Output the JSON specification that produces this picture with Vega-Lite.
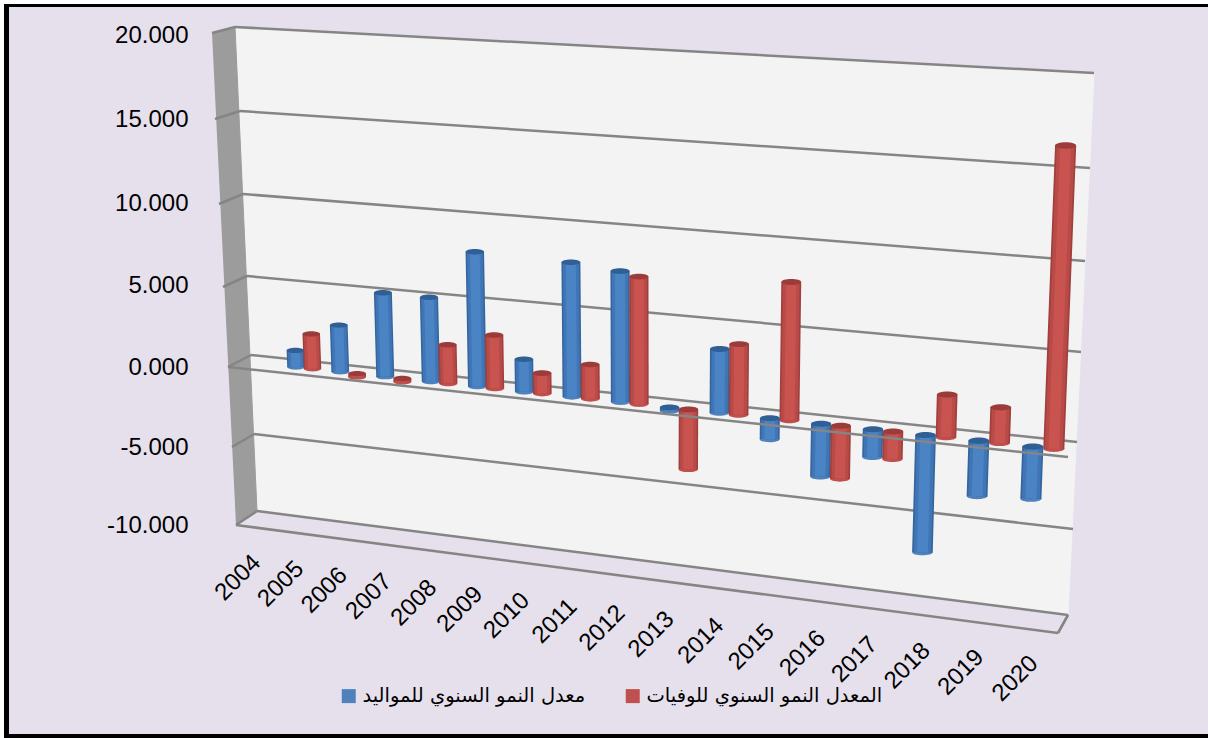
{
"$schema":"https://vega.github.io/schema/vega-lite/v6.json",
"width":1208,"height":738,"padding":0,"autosize":{"type":"none"},
"background":"#ffffff",
"view":{"stroke":null,"fill":null},
"config":{"axis":{"labelFont":"Liberation Sans"},"legend":{"labelFont":"DejaVu Sans"}},
"datasets":{
"rates":[
{"year":2005,"series":"معدل النمو  السنوي للمواليد","value":1.0},{"year":2005,"series":"المعدل النمو  السنوي للوفيات","value":2.1},
{"year":2006,"series":"معدل النمو  السنوي للمواليد","value":2.8},{"year":2006,"series":"المعدل النمو  السنوي للوفيات","value":-0.2},
{"year":2007,"series":"معدل النمو  السنوي للمواليد","value":5.0},{"year":2007,"series":"المعدل النمو  السنوي للوفيات","value":-0.2},
{"year":2008,"series":"معدل النمو  السنوي للمواليد","value":5.0},{"year":2008,"series":"المعدل النمو  السنوي للوفيات","value":2.3},
{"year":2009,"series":"معدل النمو  السنوي للمواليد","value":7.95},{"year":2009,"series":"المعدل النمو  السنوي للوفيات","value":3.15},
{"year":2010,"series":"معدل النمو  السنوي للمواليد","value":1.9},{"year":2010,"series":"المعدل النمو  السنوي للوفيات","value":1.2},
{"year":2011,"series":"معدل النمو  السنوي للمواليد","value":7.85},{"year":2011,"series":"المعدل النمو  السنوي للوفيات","value":2.0},
{"year":2012,"series":"معدل النمو  السنوي للمواليد","value":7.6},{"year":2012,"series":"المعدل النمو  السنوي للوفيات","value":7.4},
{"year":2013,"series":"معدل النمو  السنوي للمواليد","value":-0.2},{"year":2013,"series":"المعدل النمو  السنوي للوفيات","value":-3.45},
{"year":2014,"series":"معدل النمو  السنوي للمواليد","value":3.66},{"year":2014,"series":"المعدل النمو  السنوي للوفيات","value":4.06},
{"year":2015,"series":"معدل النمو  السنوي للمواليد","value":-1.2},{"year":2015,"series":"المعدل النمو  السنوي للوفيات","value":7.9},
{"year":2016,"series":"معدل النمو  السنوي للمواليد","value":-3.0},{"year":2016,"series":"المعدل النمو  السنوي للوفيات","value":-3.0},
{"year":2017,"series":"معدل النمو  السنوي للمواليد","value":-1.56},{"year":2017,"series":"المعدل النمو  السنوي للوفيات","value":-1.55},
{"year":2018,"series":"معدل النمو  السنوي للمواليد","value":-6.6},{"year":2018,"series":"المعدل النمو  السنوي للوفيات","value":2.4},
{"year":2019,"series":"معدل النمو  السنوي للمواليد","value":-3.1},{"year":2019,"series":"المعدل النمو  السنوي للوفيات","value":2.0},
{"year":2020,"series":"معدل النمو  السنوي للمواليد","value":-2.9},{"year":2020,"series":"المعدل النمو  السنوي للوفيات","value":16.9}
],
"years":[{"year":2004},{"year":2005},{"year":2006},{"year":2007},{"year":2008},{"year":2009},{"year":2010},{"year":2011},{"year":2012},{"year":2013},{"year":2014},{"year":2015},{"year":2016},{"year":2017},{"year":2018},{"year":2019},{"year":2020}],
"levels":[{"level":20},{"level":15},{"level":10},{"level":5},{"level":0},{"level":-5},{"level":-10}],
"corners":[{"corner":0},{"corner":1},{"corner":2},{"corner":3}],
"edges":[{"edge":0},{"edge":1},{"edge":2}]
},
"resolve":{"scale":{"y":"independent"}},
"layer":[
{
 "data":{"name":"levels"},
 "mark":{"type":"point","opacity":0},
 "encoding":{
  "x":{"datum":0,"type":"quantitative","scale":{"domain":[0,1208],"range":[0,1208]},"axis":null},
  "y":{"field":"level","type":"quantitative",
   "scale":{"domain":[-10,-5,0,5,10,15,20],"range":[525,447,367,285,203,119,35]},
   "axis":{"values":[-10,-5,0,5,10,15,20],"format":".3f","labelExpr":"replace(datum.label,'−','-')","title":null,"domain":false,"ticks":false,"grid":false,"labelAlign":"right","labelPadding":-188,"labelFontSize":24,"labelColor":"#000000","labelBound":false,"labelOverlap":false,"labelFlush":false,"zindex":1}}
 }
},
{
 "data":{"name":"corners"},
 "transform":[
  {"calculate":"[4,1208,1208,4][datum.corner]","as":"px"},
  {"calculate":"[4,4,738,738][datum.corner]","as":"py"}
 ],
 "mark":{"type":"line","fill":"#000000","stroke":"#000000","strokeWidth":0},
 "encoding":{
  "x":{"field":"px","type":"quantitative","scale":{"domain":[0,1208],"range":[0,1208]},"axis":null},
  "y":{"field":"py","type":"quantitative","scale":{"domain":[0,738],"range":[0,738]},"axis":null},
  "order":{"field":"corner"}
 }
},
{
 "data":{"name":"corners"},
 "transform":[
  {"calculate":"[9,1208,1208,9][datum.corner]","as":"px"},
  {"calculate":"[7,7,734,734][datum.corner]","as":"py"}
 ],
 "mark":{"type":"line","fill":"#e6e0ec","stroke":"#e6e0ec","strokeWidth":0},
 "encoding":{
  "x":{"field":"px","type":"quantitative","scale":{"domain":[0,1208],"range":[0,1208]},"axis":null},
  "y":{"field":"py","type":"quantitative","scale":{"domain":[0,738],"range":[0,738]},"axis":null},
  "order":{"field":"corner"}
 }
},
{
 "data":{"name":"corners"},
 "transform":[
  {"calculate":"[235,1094,1068,257][datum.corner]","as":"px"},
  {"calculate":"[27,73,615,511][datum.corner]","as":"py"}
 ],
 "mark":{"type":"line","fill":"#f3f3f3","stroke":"#f3f3f3","strokeWidth":1},
 "encoding":{
  "x":{"field":"px","type":"quantitative","scale":{"domain":[0,1208],"range":[0,1208]},"axis":null},
  "y":{"field":"py","type":"quantitative","scale":{"domain":[0,738],"range":[0,738]},"axis":null},
  "order":{"field":"corner"}
 }
},
{
 "data":{"name":"corners"},
 "transform":[
  {"calculate":"[212,235,257,236][datum.corner]","as":"px"},
  {"calculate":"[33,27,511,525][datum.corner]","as":"py"}
 ],
 "mark":{"type":"line","fill":"#9c9c9c","stroke":"#9c9c9c","strokeWidth":1},
 "encoding":{
  "x":{"field":"px","type":"quantitative","scale":{"domain":[0,1208],"range":[0,1208]},"axis":null},
  "y":{"field":"py","type":"quantitative","scale":{"domain":[0,738],"range":[0,738]},"axis":null},
  "order":{"field":"corner"}
 }
},
{
 "data":{"name":"levels"},
 "transform":[
  {"calculate":"(20-datum.level)/5","as":"idx"},
  {"calculate":"[235,240,243,247,251,254,257][datum.idx]","as":"bx"},
  {"calculate":"[27,111,194,276,355,434,511][datum.idx]","as":"by"},
  {"calculate":"[1094,1090,1085,1081,1077,1073,1068][datum.idx]","as":"rx"},
  {"calculate":"[73,168,261,352,442,529,615][datum.idx]","as":"ry"},
  {"calculate":"[212,215,219,223,228,232,236][datum.idx]","as":"fx"},
  {"calculate":"[33,119,204,287,367,447,525][datum.idx]","as":"fy"}
 ],
 "layer":[
  {"mark":{"type":"rule","stroke":"#858585","strokeWidth":2.5},
   "encoding":{
    "x":{"field":"bx","type":"quantitative","scale":{"domain":[0,1208],"range":[0,1208]},"axis":null},
    "y":{"field":"by","type":"quantitative","scale":{"domain":[0,738],"range":[0,738]},"axis":null},
    "x2":{"field":"rx"},"y2":{"field":"ry"}}},
  {"mark":{"type":"rule","stroke":"#858585","strokeWidth":2.5},
   "encoding":{
    "x":{"field":"fx","type":"quantitative","scale":{"domain":[0,1208],"range":[0,1208]},"axis":null},
    "y":{"field":"fy","type":"quantitative","scale":{"domain":[0,738],"range":[0,738]},"axis":null},
    "x2":{"field":"bx"},"y2":{"field":"by"}}}
 ]
},
{
 "data":{"name":"edges"},
 "transform":[
  {"calculate":"[236,1058][min(datum.edge,1)]","as":"ax"},
  {"calculate":"[525,633][min(datum.edge,1)]","as":"ay"},
  {"calculate":"[1058,1068,1068][datum.edge]","as":"cx"},
  {"calculate":"[633,615,615][datum.edge]","as":"cy"}
 ],
 "mark":{"type":"rule","stroke":"#858585","strokeWidth":2.5},
 "encoding":{
  "x":{"field":"ax","type":"quantitative","scale":{"domain":[0,1208],"range":[0,1208]},"axis":null},
  "y":{"field":"ay","type":"quantitative","scale":{"domain":[0,738],"range":[0,738]},"axis":null},
  "x2":{"field":"cx"},"y2":{"field":"cy"}
 }
},
{
 "data":{"name":"rates"},
 "transform":[
  {"calculate":"datum.year-2005","as":"i"},
  {"calculate":"indexof(datum.series,'للوفيات')>=0","as":"isRed"},
  {"calculate":"296+43.93*datum.i+0.346*datum.i*datum.i+(datum.isRed?16.5+0.3*datum.i:0)","as":"x0"},
  {"calculate":"367+0.108*(datum.x0-296)","as":"y0"},
  {"calculate":"16.6+0.09*datum.i","as":"k"},
  {"calculate":"-0.73+1.5*(datum.x0-236)/858","as":"s"},
  {"calculate":"17.5+0.24*datum.i","as":"w"},
  {"calculate":"datum.x0+max(datum.value,0)*datum.s","as":"xt"},
  {"calculate":"datum.y0-max(datum.value,0)*datum.k","as":"yt"},
  {"calculate":"datum.x0+min(datum.value,0)*datum.s","as":"xb"},
  {"calculate":"datum.y0-min(datum.value,0)*datum.k","as":"yb"},
  {"calculate":"datum.w*0.84","as":"w2"},
  {"calculate":"datum.w*0.52","as":"w3"},
  {"calculate":"datum.w*datum.w","as":"area"}
 ],
 "resolve":{"scale":{"stroke":"independent","fill":"independent"}},
 "layer":[
  {"mark":{"type":"point","shape":"M-1,0A1,0.3,0,1,1,1,0A1,0.3,0,1,1,-1,0Z","filled":true,"opacity":1},
   "encoding":{
    "x":{"field":"xb","type":"quantitative","scale":{"domain":[0,1208],"range":[0,1208]},"axis":null},
    "y":{"field":"yb","type":"quantitative","scale":{"domain":[0,738],"range":[0,738]},"axis":null},
    "size":{"field":"area","type":"quantitative","scale":null},
    "fill":{"field":"series","type":"nominal","sort":null,
     "scale":{"domain":["معدل النمو  السنوي للمواليد","المعدل النمو  السنوي للوفيات"],"range":["#4f81bd","#c0504d"]},
     "legend":{"title":null,"orient":"none","legendX":339,"legendY":686,"direction":"horizontal","columns":2,"symbolType":"square","symbolSize":196,"symbolStrokeWidth":0,"labelFontSize":19.5,"labelColor":"#000000","labelLimit":400,"labelOffset":4,"columnPadding":31,"values":["معدل النمو  السنوي للمواليد","المعدل النمو  السنوي للوفيات"]}}
   }},
  {"mark":{"type":"rule"},
   "encoding":{
    "x":{"field":"xb","type":"quantitative","scale":{"domain":[0,1208],"range":[0,1208]},"axis":null},
    "y":{"field":"yb","type":"quantitative","scale":{"domain":[0,738],"range":[0,738]},"axis":null},
    "x2":{"field":"xt"},"y2":{"field":"yt"},
    "size":{"field":"w","type":"quantitative","scale":null},
    "stroke":{"field":"series","type":"nominal","legend":null,
     "scale":{"domain":["معدل النمو  السنوي للمواليد","المعدل النمو  السنوي للوفيات"],"range":["#33659e","#a03f3c"]}}
   }},
  {"mark":{"type":"rule"},
   "encoding":{
    "x":{"field":"xb","type":"quantitative","scale":{"domain":[0,1208],"range":[0,1208]},"axis":null},
    "y":{"field":"yb","type":"quantitative","scale":{"domain":[0,738],"range":[0,738]},"axis":null},
    "x2":{"field":"xt"},"y2":{"field":"yt"},
    "size":{"field":"w2","type":"quantitative","scale":null},
    "stroke":{"field":"series","type":"nominal","legend":null,
     "scale":{"domain":["معدل النمو  السنوي للمواليد","المعدل النمو  السنوي للوفيات"],"range":["#4076b6","#b84a47"]}}
   }},
  {"mark":{"type":"rule"},
   "encoding":{
    "x":{"field":"xb","type":"quantitative","scale":{"domain":[0,1208],"range":[0,1208]},"axis":null},
    "y":{"field":"yb","type":"quantitative","scale":{"domain":[0,738],"range":[0,738]},"axis":null},
    "x2":{"field":"xt"},"y2":{"field":"yt"},
    "size":{"field":"w3","type":"quantitative","scale":null},
    "stroke":{"field":"series","type":"nominal","legend":null,
     "scale":{"domain":["معدل النمو  السنوي للمواليد","المعدل النمو  السنوي للوفيات"],"range":["#4b84c5","#c8534f"]}}
   }},
  {"mark":{"type":"point","shape":"M-1,0A1,0.3,0,1,1,1,0A1,0.3,0,1,1,-1,0Z","filled":true,"opacity":1},
   "encoding":{
    "x":{"field":"xt","type":"quantitative","scale":{"domain":[0,1208],"range":[0,1208]},"axis":null},
    "y":{"field":"yt","type":"quantitative","scale":{"domain":[0,738],"range":[0,738]},"axis":null},
    "size":{"field":"area","type":"quantitative","scale":null},
    "fill":{"field":"series","type":"nominal","legend":null,
     "scale":{"domain":["معدل النمو  السنوي للمواليد","المعدل النمو  السنوي للوفيات"],"range":["#305f95","#9c3c3a"]}}
   }}
 ]
},
{
 "data":{"name":"edges"},
 "transform":[{"filter":"datum.edge==2"},
  {"calculate":"228","as":"ax"},{"calculate":"367","as":"ay"},{"calculate":"1068","as":"cx"},{"calculate":"457","as":"cy"}],
 "mark":{"type":"rule","stroke":"#858585","strokeWidth":2.5},
 "encoding":{
  "x":{"field":"ax","type":"quantitative","scale":{"domain":[0,1208],"range":[0,1208]},"axis":null},
  "y":{"field":"ay","type":"quantitative","scale":{"domain":[0,738],"range":[0,738]},"axis":null},
  "x2":{"field":"cx"},"y2":{"field":"cy"}
 }
},
{
 "data":{"name":"years"},
 "transform":[
  {"calculate":"datum.year-2004","as":"j"},
  {"calculate":"257+42.5*datum.j+0.38*datum.j*datum.j","as":"xe"},
  {"calculate":"559+6.3*datum.j","as":"ye"}
 ],
 "mark":{"type":"text","angle":315,"align":"right","baseline":"middle","font":"Liberation Sans","fontSize":24,"color":"#000000"},
 "encoding":{
  "x":{"field":"xe","type":"quantitative","scale":{"domain":[0,1208],"range":[0,1208]},"axis":null},
  "y":{"field":"ye","type":"quantitative","scale":{"domain":[0,738],"range":[0,738]},"axis":null},
  "text":{"field":"year","type":"nominal"}
 }
}
]
}
